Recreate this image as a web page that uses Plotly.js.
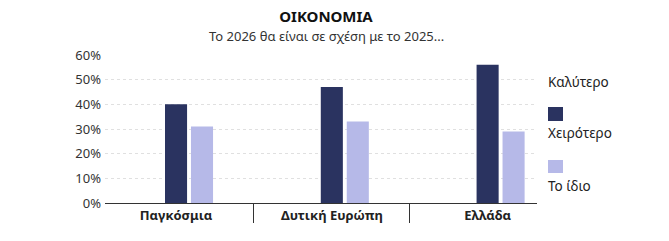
<!DOCTYPE html>
<html>
<head>
<meta charset="utf-8">
<script src="https://cdn.plot.ly/plotly-3.0.1.min.js"></script>
<style>html,body{margin:0;padding:0;background:#fff;}#chart{width:669px;height:241px;}</style>
</head>
<body>
<div id="chart"></div>
<script>
const categories = ["Παγκόσμια", "Δυτική Ευρώπη", "Ελλάδα"];
const seriesNames = ["Καλύτερο", "Χειρότερο", "Το ίδιο"];
const better = [0, 0, 0];
const worse = [40, 47, 56];
const same = [31, 33, 29];
const yTicks = [0, 10, 20, 30, 40, 50, 60];
const colors = ["#ffffff", "#2a3360", "#b6b9e8"];

const FONT = "Noto Sans, Lato, sans-serif";
const values = [better, worse, same];
const traces = seriesNames.map((n, i) => ({
  type: "bar", name: n, x: categories, y: values[i],
  marker: {color: colors[i]}, hoverinfo: "skip"
}));

// legend drawn manually: marker above text
const L = 105, R = 537, T = 55, B = 203;
const px = v => (v - L) / (R - L);
const py = v => (B - v) / (B - T);
const legendText = [81.5, 133, 186];
const legendBox = [[55, 69], [107, 121], [160, 173]];
const annotations = seriesNames.map((n, i) => ({
  xref: "paper", yref: "paper", x: px(546), y: py(legendText[i]),
  xanchor: "left", yanchor: "middle", showarrow: false, text: n,
  font: {family: FONT, size: 13.5, color: "#222"}
}));
annotations.push({
  xref: "paper", yref: "paper", x: px(326), y: py(36), xanchor: "center", yanchor: "middle",
  showarrow: false, text: "Το 2026 θα είναι σε σχέση με το 2025...",
  font: {family: FONT, size: 13, color: "#333"}
});
const shapes = seriesNames.map((n, i) => ({
  type: "rect", xref: "paper", yref: "paper",
  x0: px(548), x1: px(563), y0: py(legendBox[i][1]), y1: py(legendBox[i][0]),
  fillcolor: colors[i], line: {width: 0}
}));

const layout = {
  width: 669, height: 241,
  margin: {l: L, r: 669 - R, t: T, b: 241 - B},
  paper_bgcolor: "#fff", plot_bgcolor: "#fff",
  title: {text: "<b>ΟΙΚΟΝΟΜΙΑ</b>", x: 326 / 669, xanchor: "center", y: 1 - 17 / 241, yanchor: "middle",
    font: {family: FONT, size: 15, color: "#111", weight: 900}},
  showlegend: false,
  barmode: "group", bargap: 0.5, bargroupgap: 0.15,
  xaxis: {
    range: [-0.456, 2.317], tickson: "boundaries", ticks: "outside", ticklen: 19, tickcolor: "#333",
    tickwidth: 1, ticklabelstandoff: 0, showline: true, linecolor: "#333", linewidth: 1,
    tickfont: {family: FONT, size: 13, color: "#222", weight: "bold"}, showgrid: false, fixedrange: true
  },
  yaxis: {
    range: [0, 60], tickvals: yTicks, ticktext: yTicks.map(v => v + "%"),
    tickfont: {family: FONT, size: 13, color: "#333"}, showgrid: true, gridcolor: "#e0e0e0",
    griddash: "dot", gridwidth: 1, zeroline: false, ticks: "", ticklabelstandoff: 3, fixedrange: true
  },
  annotations: annotations,
  shapes: shapes
};
Plotly.newPlot("chart", traces, layout, {staticPlot: true, displayModeBar: false});
</script>
</body>
</html>
